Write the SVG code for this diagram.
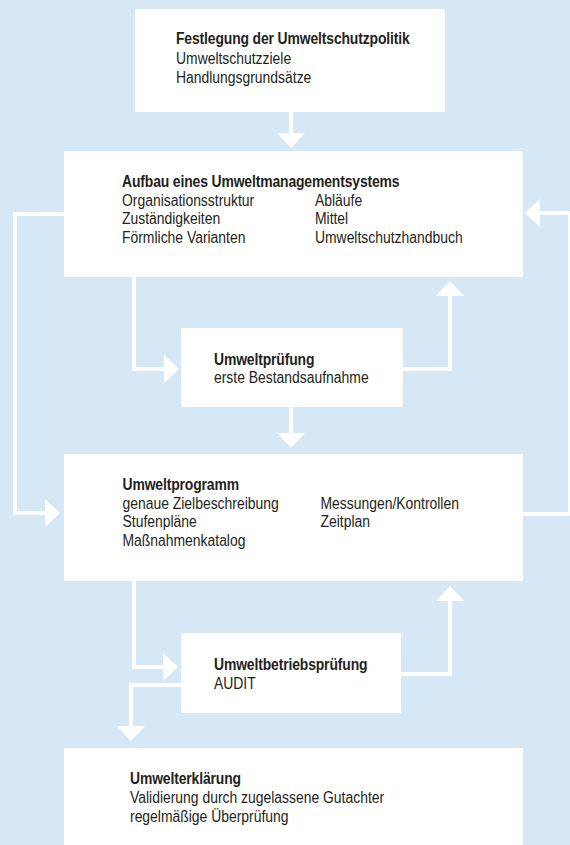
<svg xmlns="http://www.w3.org/2000/svg" width="570" height="845" viewBox="0 0 570 845">
<style>
.box{fill:#ffffff}
.t{font-family:"Liberation Sans",Arial,sans-serif;font-size:16px;fill:#231f20}
.b{font-weight:bold;letter-spacing:-0.15px}
.c{fill:none;stroke:#ffffff;stroke-width:4;stroke-linejoin:miter}
</style>
<defs>
<marker id="ah" markerUnits="userSpaceOnUse" markerWidth="15" markerHeight="28" viewBox="0 0 15 28" refX="1" refY="14" orient="auto">
<path d="M0,0 L15,14 L0,28 Z" fill="#ffffff"/>
</marker>
</defs>
<rect x="0" y="0" width="570" height="845" fill="#d6e7f5"/>
<g id="connectors">
<path class="c" d="M291,112 V134" marker-end="url(#ah)"/>
<path class="c" d="M134,277 V369 H165" marker-end="url(#ah)"/>
<path class="c" d="M403,369 H450 V295" marker-end="url(#ah)"/>
<path class="c" d="M291,407 V434" marker-end="url(#ah)"/>
<path class="c" d="M64,214 H15 V513 H46" marker-end="url(#ah)"/>
<path class="c" d="M523,514 H570 V213 H539" marker-end="url(#ah)"/>
<path class="c" d="M134,581 V667 H164" marker-end="url(#ah)"/>
<path class="c" d="M401,674 H450 V600" marker-end="url(#ah)"/>
<path class="c" d="M181,685 H131 V727" marker-end="url(#ah)"/>
</g>
<g id="node-politik">
<rect class="box" x="135" y="9" width="310" height="103"/>
<g class="t" transform="translate(176 0) scale(0.87 1)">
<text class="b" x="0" y="44">Festlegung der Umweltschutzpolitik</text>
<text x="0" y="64">Umweltschutzziele</text>
<text x="0" y="83.5">Handlungsgrundsätze</text>
</g>
</g>
<g id="node-ums">
<rect class="box" x="64" y="151" width="459" height="126"/>
<g class="t" transform="translate(122 0) scale(0.87 1)">
<text class="b" x="0" y="187">Aufbau eines Umweltmanagementsystems</text>
<text x="0" y="206">Organisationsstruktur</text>
<text x="0" y="224.5">Zuständigkeiten</text>
<text x="0" y="243">Förmliche Varianten</text>
<text x="221.8" y="206">Abläufe</text>
<text x="221.8" y="224.5">Mittel</text>
<text x="221.8" y="243">Umweltschutzhandbuch</text>
</g>
</g>
<g id="node-pruefung">
<rect class="box" x="181" y="328" width="222" height="79"/>
<g class="t" transform="translate(214 0) scale(0.87 1)">
<text class="b" x="0" y="365.5">Umweltprüfung</text>
<text x="0" y="383.5">erste Bestandsaufnahme</text>
</g>
</g>
<g id="node-programm">
<rect class="box" x="64" y="454" width="459" height="127"/>
<g class="t" transform="translate(122.5 0) scale(0.87 1)">
<text class="b" x="0" y="490">Umweltprogramm</text>
<text x="0" y="509">genaue Zielbeschreibung</text>
<text x="0" y="527.5">Stufenpläne</text>
<text x="0" y="546.5">Maßnahmenkatalog</text>
<text x="227.6" y="509">Messungen/Kontrollen</text>
<text x="227.6" y="527.5">Zeitplan</text>
</g>
</g>
<g id="node-audit">
<rect class="box" x="181" y="633" width="220" height="80"/>
<g class="t" transform="translate(214 0) scale(0.87 1)">
<text class="b" x="0" y="670">Umweltbetriebsprüfung</text>
<text x="0" y="689">AUDIT</text>
</g>
</g>
<g id="node-erklaerung">
<rect class="box" x="64" y="748" width="459" height="97"/>
<g class="t" transform="translate(130 0) scale(0.87 1)">
<text class="b" x="0" y="784">Umwelterklärung</text>
<text x="0" y="803.5">Validierung durch zugelassene Gutachter</text>
<text x="0" y="822">regelmäßige Überprüfung</text>
</g>
</g>
</svg>
